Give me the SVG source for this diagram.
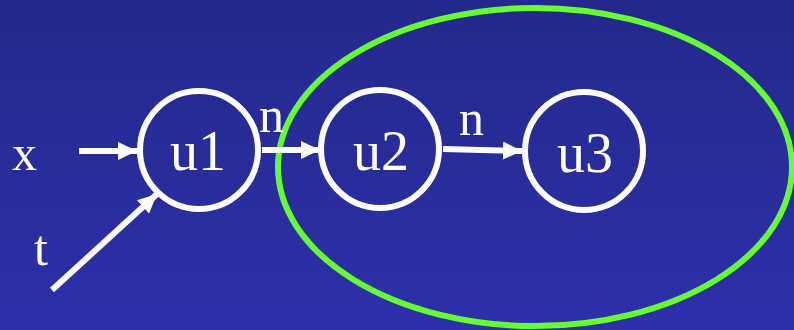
<svg xmlns="http://www.w3.org/2000/svg" width="794" height="330" viewBox="0 0 794 330">
<defs>
<linearGradient id="bg" x1="0" y1="0" x2="0" y2="1">
<stop offset="0" stop-color="#24288c"/>
<stop offset="1" stop-color="#2d30a9"/>
</linearGradient>
<marker id="ah" markerUnits="userSpaceOnUse" markerWidth="22" markerHeight="20" refX="19" refY="9" orient="auto">
<path d="M0,0 L19,9 L0,18 Z" fill="#ffffff"/>
</marker>
<style>
.node{fill:none;stroke:#ffffff;stroke-width:6}
.lbl{font-family:"Liberation Serif","Times New Roman",serif;fill:#ffffff}
.edge{stroke:#ffffff;stroke-width:6;fill:none;marker-end:url(#ah)}
</style>
</defs>
<rect x="0" y="0" width="794" height="330" fill="url(#bg)"/>
<g id="group">
<ellipse cx="535" cy="167" rx="257" ry="159" fill="none" stroke="#66ff33" stroke-width="6"/>
</g>
<g id="connectors">
<line class="edge" x1="79" y1="151" x2="137" y2="151"/>
<line class="edge" x1="52" y1="290" x2="157" y2="194"/>
<line class="edge" x1="262" y1="150" x2="320" y2="150"/>
<line class="edge" x1="443" y1="149" x2="522" y2="151"/>
</g>
<g id="u1">
<circle class="node" cx="199" cy="150" r="59"/>
<text class="lbl" x="198" y="170" font-size="56" text-anchor="middle">u1</text>
</g>
<g id="u2">
<circle class="node" cx="380" cy="149" r="59"/>
<text class="lbl" x="381" y="170" font-size="56" text-anchor="middle">u2</text>
</g>
<g id="u3">
<circle class="node" cx="584" cy="151" r="59"/>
<text class="lbl" x="585" y="172" font-size="56" text-anchor="middle">u3</text>
</g>
<g id="labels">
<text class="lbl" x="12" y="170" font-size="50">x</text>
<text class="lbl" x="34" y="265" font-size="50">t</text>
<text class="lbl" x="259" y="132" font-size="50">n</text>
<text class="lbl" x="459" y="135" font-size="50">n</text>
</g>
</svg>
